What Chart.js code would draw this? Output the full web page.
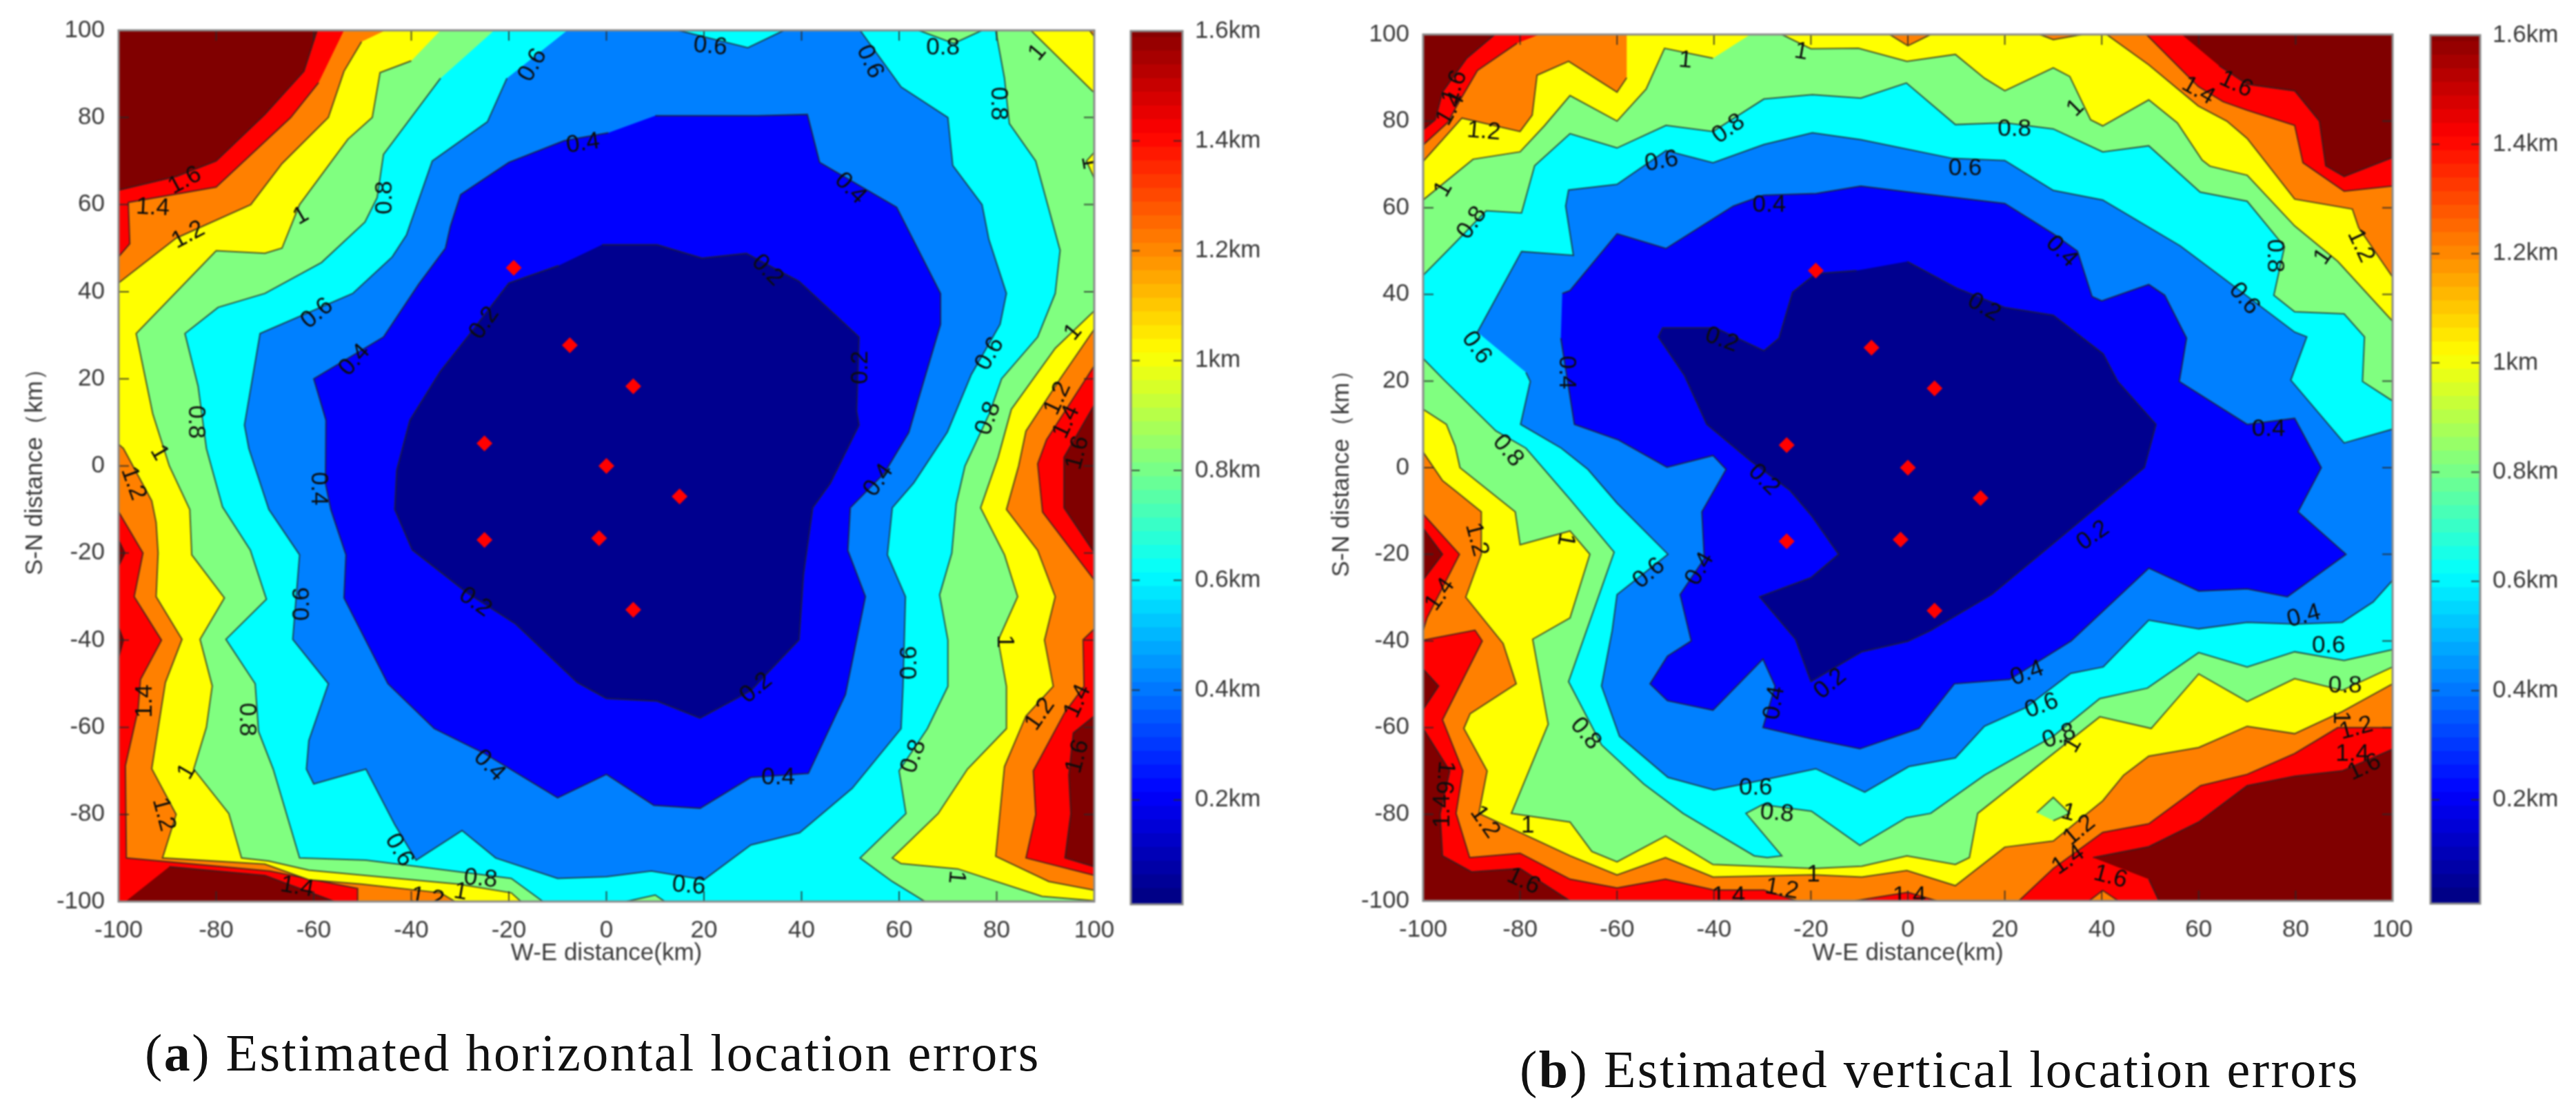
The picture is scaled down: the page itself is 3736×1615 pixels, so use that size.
<!DOCTYPE html>
<html>
<head>
<meta charset="utf-8">
<style>
html, body { margin: 0; background: #fff; }
canvas { position: absolute; filter: blur(1.1px); }
.caption { position: absolute; font-family: "Liberation Serif", serif; font-size: 76px; letter-spacing: 2.5px; color: #111; white-space: nowrap; }
</style>
<script src="https://cdn.jsdelivr.net/npm/chart.js@4/dist/chart.umd.js"></script>
</head>
<body>
<canvas id="plot-h" style="left:0;top:0"></canvas>
<canvas id="bar-h" style="left:1620px;top:0"></canvas>
<canvas id="plot-v" style="left:1880px;top:0"></canvas>
<canvas id="bar-v" style="left:3505px;top:0"></canvas>
<div class="caption" style="left:210px;top:1483px">(<b>a</b>) Estimated horizontal location errors</div>
<div class="caption" style="left:2204px;top:1507px">(<b>b</b>) Estimated vertical location errors</div>
<script>
const axisTicks = [-100, -80, -60, -40, -20, 0, 20, 40, 60, 80, 100];
const barTicks = [0.2, 0.4, 0.6, 0.8, 1, 1.2, 1.4, 1.6];
const barEdges = [0.01, 0.035, 0.06, 0.085, 0.11, 0.135, 0.16, 0.185, 0.21, 0.235, 0.26, 0.285, 0.31, 0.335, 0.36, 0.385, 0.41, 0.435, 0.46, 0.485, 0.51, 0.535, 0.56, 0.585, 0.61, 0.635, 0.66, 0.685, 0.71, 0.735, 0.76, 0.785, 0.81, 0.835, 0.86, 0.885, 0.91, 0.935, 0.96, 0.985, 1.01, 1.035, 1.06, 1.085, 1.11, 1.135, 1.16, 1.185, 1.21, 1.235, 1.26, 1.285, 1.31, 1.335, 1.36, 1.385, 1.41, 1.435, 1.46, 1.485, 1.51, 1.535, 1.56, 1.585, 1.6];
const stationX = [-19, -7.5, 5.5, -25, 0, 15, -1.5, -25, 5.5];
const stationY = [45.5, 27.7, 18.3, 5.2, 0, -7, -16.6, -17, -33];
const plotCorners = [[-100, 100], [100, 100], [100, -100], [-100, -100]];

// panel a, horizontal errors: regions below each contour level
const hMaroonCorner = [[-100, 100], [-59.3, 100], [-62, 90.6], [-70, 80.7], [-80, 70], [-88, 66.5], [-100, 63.3]];
const hMaroonRight1 = [[100, 14], [93.8, 2], [93.8, -9.6], [100, -19.9]];
const hMaroonRight2 = [[100, -57.4], [95.7, -61.3], [94.8, -71], [95.2, -79.8], [94, -90], [100, -92]];
const hMaroonBottom = [[-89.6, -92], [-70, -94], [-55.7, -100], [-98.6, -100]];
const hMaroonEdge1 = [[-100, -17], [-98.7, -20], [-100, -23]];
const hMaroonEdge2 = [[-100, -37], [-99, -40], [-100, -44]];
const hLe14 = [[-53.8, 100], [100, 100], [100, 23], [90.2, 6], [88.4, 0.5], [89.4, -10.6], [100, -26.2], [100, -37.4], [97.7, -39.9], [97.9, -50.6], [94, -56.5], [87.5, -70], [88, -80], [86, -90], [100, -94], [100, -100], [-51, -100], [-51, -97], [-69, -93], [-98.4, -90], [-98.6, -68.8], [-96, -56], [-95.5, -49], [-91.2, -40], [-96.8, -30], [-95, -20], [-100, -10.5], [-100, 48], [-97.7, 51], [-98, 60.5], [-80, 64], [-64.7, 80], [-59, 88]];
const hLe12 = [[-45.3, 100], [99, 100], [100, 98.6], [100, 31.4], [93, 20], [86, 8], [84.5, 0], [82, -10], [88.4, -19.4], [92, -30], [89.8, -40], [91.6, -50.6], [86, -57.4], [81.6, -69], [79.8, -89.6], [90.7, -95.4], [100, -97.4], [100, -100], [-31, -100], [-34, -98], [-50.2, -96], [-61, -95], [-70, -91.4], [-91, -90], [-88.2, -80], [-93.2, -69.5], [-91.3, -56], [-90.4, -49.7], [-87, -39.8], [-92.3, -30], [-91.9, -20], [-92.3, -13], [-93.2, -8], [-99, 4], [-100, 5], [-100, 42], [-88.2, 52.3], [-72.9, 60], [-66.5, 69.4], [-57, 80], [-53.8, 90.6], [-50.2, 97.4]];
const hLe10 = [[-34, 100], [87, 100], [99.7, 86], [100, 86], [100, 72], [98.4, 70], [100, 66], [100, 35.6], [92, 27], [83, 13], [80.3, 2], [76.7, -9.6], [81.6, -20.4], [84.3, -30], [80.3, -40], [82, -50.6], [82, -60.3], [74, -69.6], [68, -79.8], [58.6, -90], [60.4, -91.3], [72, -92.5], [89.3, -98.8], [100, -99.8], [100, -100], [-17.5, -100], [-19.5, -98], [-30.3, -96], [-61, -92.8], [-69.2, -90.7], [-74.8, -90], [-77.4, -79.8], [-84.6, -69.6], [-82, -60], [-80.8, -50.5], [-83.3, -39.8], [-78.3, -30.3], [-85, -20.4], [-85.4, -10], [-89.6, 0], [-93, 12], [-96.4, 30.4], [-80, 49.4], [-70, 48.8], [-66.5, 50], [-62.9, 60], [-53, 75], [-48, 80], [-46.4, 90.3], [-40, 93]];
const hLe08 = [[-23, 100], [79.8, 100], [81.6, 89], [82.6, 78.6], [88, 70], [93, 49.5], [92, 39.6], [88.4, 29.6], [81, 20], [78.5, 12], [73.5, 0], [71.7, -8.7], [70.8, -20], [68.3, -29.6], [70, -40], [70, -50.6], [65.8, -60.3], [60, -70], [61.4, -79.8], [52, -90], [58.6, -95.4], [65.3, -100], [-13, -100], [-19.5, -94.7], [-38.4, -92], [-49.3, -90.5], [-62.9, -90], [-68.3, -69.6], [-71.3, -61], [-72, -50], [-78, -39.8], [-69.7, -30.6], [-73, -19.3], [-78.7, -9.4], [-82, 4], [-83.7, 18.3], [-86.4, 30.4], [-79.6, 36.4], [-70, 39.6], [-58.4, 46.7], [-49.5, 56], [-47, 61.6], [-45.7, 71.5], [-34, 89]];
const hGreenTop = [[64, 100], [71.2, 97], [77, 100]];
const hGreenBottom = [[4, -100], [10, -98.5], [12, -100]];
const hLe06 = [[-8, 100], [52, 100], [60.4, 87], [70, 80], [71, 69], [77, 60], [78.4, 52], [82, 39.6], [80.7, 32.5], [74.8, 21], [69.9, 7.8], [63, -3.9], [58.6, -9.6], [57.6, -20.4], [61.3, -30], [60.8, -50.6], [60.4, -60.3], [50.4, -74], [39.6, -84.2], [29.6, -87], [20, -95], [9.2, -93], [0, -94.3], [-10, -94.7], [-22.7, -90], [-29.6, -83.7], [-39, -90.5], [-43.4, -82.3], [-49.3, -69.6], [-60, -73], [-61.5, -69.6], [-61, -63], [-57, -50], [-64.3, -39.8], [-62.9, -20.4], [-69.2, -10], [-73.3, 4], [-74.2, 9.4], [-71, 30.4], [-52, 39.6], [-43.9, 48], [-41, 53], [-35.7, 70], [-24.4, 79], [-20.4, 89]];
const hCyanTop = [[14.7, 100], [29, 96], [36.4, 100]];
const hLe04 = [[10, 80.4], [31, 80.4], [41.2, 80.7], [43.7, 69.7], [59.5, 59.4], [68.5, 39.6], [68.5, 32.5], [64, 15.5], [62, 7.7], [57, -1.6], [50, -9.6], [49.5, -19.4], [53.1, -30], [49, -52.5], [41.4, -70.6], [29.6, -71.5], [19.2, -78.6], [9.7, -77.9], [0, -70.8], [-10, -76.2], [-25, -66], [-35.3, -60.3], [-44.8, -50], [-53.8, -30.3], [-53.4, -20.4], [-56.5, -10], [-57.6, -4], [-57.5, 10.5], [-60, 20], [-45.7, 29.6], [-38.5, 41.7], [-33, 50], [-32, 55], [-29.9, 62.3], [-20, 69.7], [-8.6, 74.7], [0.4, 76.5]];
const hLe02 = [[-0.9, 50.8], [10.4, 50.8], [19.6, 47.7], [28.7, 48.8], [39.5, 42.4], [51.8, 29.6], [51.3, 12.6], [51.8, 9.4], [45.9, -4], [42.3, -9.6], [40.4, -25], [39.5, -39.9], [29.6, -51.6], [19.2, -57.9], [10.4, -54], [0, -53.4], [-6, -49.7], [-18.6, -36.3], [-28.5, -29.2], [-39.8, -19.3], [-43.4, -10], [-43, -1], [-40.3, 10.5], [-34, 21.8], [-28.5, 29.6], [-20, 42], [-9.8, 46]];

// text, x, y, rotation
const hLabels = [['0.6', -15.1, 92, -60], ['0.4', -4.8, 74, -8], ['1.6', -86.4, 65.5, -28], ['1.4', -93, 59.3, 3], ['1.2', -85.7, 53, -28], ['1', -62.6, 57.4, -30], ['0.8', -45.4, 61.6, -90], ['0.2', -25, 32.8, -55], ['0.6', -59.3, 35, -40], ['0.4', -51.6, 24.3, -48], ['0.8', -84.2, 10.1, 90], ['1', -91.7, 3, 60], ['1.2', -97, -4, 70], ['0.4', -59, -5.2, 90], ['0.6', -62.4, -31.7, -90], ['0.2', -26.9, -31.3, 35], ['1.4', -94.6, -54, -90], ['0.8', -73.8, -58.2, 90], ['1', -86, -70.2, -60], ['1.2', -90.8, -80, 75], ['0.4', -24, -68.8, 45], ['0.6', -42.5, -88.2, 60], ['1.4', -63.4, -96.7, 10], ['0.8', -25.8, -94.8, 5], ['1', -29.9, -97.8, 10], ['1.2', -36.7, -99.2, 10], ['0.6', 16.9, -96.4, 5], ['0.4', 55.8, -3.3, -55], ['0.2', 30.7, -51, -40], ['0.4', 35.2, -71.5, 0], ['0.6', 62.2, -45.2, -90], ['0.8', 63, -66.7, -70], ['1', 81.6, -40.3, 90], ['1.2', 88.9, -57, -55], ['1.4', 96.6, -54, -65], ['1.6', 96.6, -66.7, -75], ['1', 71.7, -94.4, 95], ['0.6', 21.3, 96.3, 5], ['0.6', 54, 92.8, 65], ['0.8', 69, 96, 0], ['1', 88.4, 94.9, -50], ['0.8', 80.3, 83.2, 90], ['0.4', 50, 63.7, 45], ['0.2', 33, 44.9, 45], ['0.2', 52.2, 22.6, -90], ['0.6', 78.6, 25.7, -60], ['0.8', 78.3, 10.9, -70], ['1', 95.7, 30.7, -50], ['1.2', 92.5, 15.5, -65], ['1.4', 94.3, 10.1, -65], ['1.6', 96.6, 3, -75], ['1', 99, 69.7, 80]];

// panel b, vertical errors
const vMaroonCorner = [[-100, 100], [-85.2, 100], [-91, 94.5], [-96, 86.7], [-97.5, 80.3], [-100, 78]];
const vMaroonTop = [[56.5, 100], [100, 100], [100, 71.6], [90, 67.2], [86.2, 69.7], [84.9, 80], [79.8, 87], [70, 88.5], [64.2, 92.8]];
const vMaroonLeft = [[-100, -60.2], [-94.5, -70], [-96.5, -80], [-96, -89.6], [-90, -93.3], [-80, -92.5], [-69.7, -100], [-100, -100]];
const vMaroonBottom = [[38.2, -90], [49.7, -87.5], [60, -81.8], [70, -73.4], [79.8, -71.2], [89.6, -70], [100, -65], [100, -100], [51.8, -100], [49.7, -95]];
const vMaroonEdge1 = [[-100, -14], [-96, -20], [-100, -25.9]];
const vMaroonEdge2 = [[-100, -46.5], [-96.8, -50.4], [-100, -55.8]];
const vOrangeBottom = [[37.4, -100], [40.2, -97.6], [43.4, -100]];
const vLe14 = [[-76, 100], [49.2, 100], [59.9, 88], [65, 84.5], [70, 82.5], [79.8, 79], [81.5, 70.4], [90, 63.8], [100, 65], [100, -60], [88.7, -60], [79.8, -66], [70, -70.8], [60.4, -73.4], [49.7, -82.2], [40.2, -84.2], [30, -92.5], [22.9, -100], [6, -100], [0, -98], [-11, -100], [-22.9, -100], [-29.7, -97.5], [-40, -97.5], [-50, -95], [-60, -97], [-69.7, -95], [-80, -89], [-90.4, -90], [-93.2, -79.8], [-91.8, -70], [-96, -58.2], [-87.8, -40], [-89.3, -37.5], [-100, -39.8], [-100, -37.6], [-99.2, -34.7], [-92.5, -20], [-100, -10.7], [-100, 74.5], [-95, 79.6], [-92.5, 84.6], [-88.8, 91.7], [-80.6, 98]];
const vLe12 = [[-58, 100], [41, 100], [49.7, 93], [59.9, 83.5], [65.8, 80], [70, 76], [79.8, 62], [91.7, 59.7], [93, 55.4], [100, 44], [100, -49.9], [89.6, -56.3], [79.8, -61.4], [70, -59.7], [60, -64.6], [49.7, -66.6], [44.5, -71], [40.2, -76.9], [30, -86.2], [20, -87.6], [9.8, -96.5], [-0.2, -93], [-9.5, -94.5], [-19.5, -94], [-40.2, -94.5], [-50, -90], [-60, -94], [-69.7, -89.6], [-88.5, -79.8], [-86.8, -70], [-91.6, -60.2], [-90.3, -56.8], [-80.8, -49.9], [-83.5, -40.6], [-91.2, -29.9], [-88, -20], [-88, -10.2], [-93.4, -5.3], [-96, -3], [-100, 3.6], [-100, 70.7], [-92, 80.7], [-80, 77.6], [-77.5, 81.4], [-76.5, 90.6], [-70, 93.8], [-60, 86.7], [-58, 90]];
const vOrangeTop1 = [[-3.8, 100], [0, 97.4], [4.7, 100]];
const vOrangeTop2 = [[27.2, 100], [30, 98.8], [36, 100]];
const vGreenSpot = [[26.6, -79.6], [30, -76.1], [33.4, -79.8], [30, -81.5]];
const vLe10 = [[-32.5, 100], [-26, 100], [-20, 96.7], [-10.2, 96.8], [-0.2, 93.8], [9.8, 95.4], [15.8, 89.9], [20, 87], [30, 92.3], [33.4, 90.3], [37.7, 80.3], [40.2, 78.9], [49.7, 84.9], [55.6, 79.6], [60.7, 71], [62.3, 69.6], [70, 67.5], [79.8, 55.8], [88.7, 47.6], [100, 33.8], [100, -46], [89.6, -51.4], [79.8, -48.7], [70, -54], [60, -47.6], [50.2, -60.2], [39.6, -57.5], [14.4, -79.8], [12.7, -90], [9.8, -91.6], [-0.2, -89.6], [-9.5, -92], [-19.5, -92.5], [-40.2, -91.6], [-50, -85], [-60, -91], [-65.2, -88.6], [-69.7, -81.8], [-81.8, -79.8], [-74.2, -59.2], [-77.4, -39.6], [-69.7, -34.7], [-65.6, -20], [-69.7, -14.6], [-80, -17.8], [-81, -10.2], [-92.4, 0], [-93.4, 5], [-95.2, 10], [-100, 13.5], [-100, 61.8], [-89.7, 71.2], [-80, 72.9], [-75, 78.9], [-69.7, 85.9], [-60, 80], [-54, 87.4], [-50.2, 96.8], [-40.2, 94.5]];
const vLe08 = [[-100, 44.4], [-93.4, 51.9], [-87, 59.3], [-79.7, 58.8], [-77, 69.7], [-69.7, 77.1], [-60, 73.8], [-49.9, 79], [-40.2, 77.6], [-29.7, 85.1], [-19.7, 86.1], [-9.7, 85.3], [-0.3, 88.8], [9.8, 79.2], [20, 79.6], [30, 78.2], [40.2, 72.9], [49.7, 74.3], [60.3, 63.6], [70, 61.5], [77.7, 51], [75.5, 39.8], [79.8, 36], [90, 35.5], [94.2, 30.2], [93.8, 19.9], [100, 15.4], [100, -42], [90, -44.5], [79.8, -42.5], [70, -46], [60, -42.7], [49.4, -50.9], [39.6, -53.3], [30, -62], [15.8, -71], [4.7, -79.8], [-0.3, -80.8], [-9.9, -87.2], [-19.9, -79.3], [-30, -77.8], [-33.4, -79.8], [-26, -89.6], [-29, -90], [-31.7, -89.6], [-46.4, -79.8], [-54.5, -73], [-63.2, -64], [-70, -49.4], [-60.6, -19.5], [-69.7, -7.3], [-78.8, 4.5], [-85, 8.5], [-96, 20.6], [-100, 25.2]];
const vLe06 = [[-88.8, 31.3], [-79.7, 49.9], [-69, 49], [-70.6, 60.4], [-70, 64.1], [-60, 65.4], [-49.9, 73.2], [-40.2, 70.4], [-29.7, 74.6], [-19.7, 77.3], [-9.7, 75.7], [9.2, 71.4], [20, 70.9], [30, 64], [40.2, 61.8], [56.2, 51.2], [65.5, 43.4], [79.8, 31.3], [82.3, 30.2], [79, 20.2], [90, 5.7], [100, 8.9], [100, -26], [96, -31], [89.6, -35.7], [80, -36.1], [70, -35.7], [60, -37.2], [49.7, -35.2], [40.3, -46], [33.6, -47.5], [24.3, -55.4], [15.8, -59.7], [9.8, -67], [0.2, -69], [-8.9, -74.9], [-19, -69.5], [-29.5, -72], [-40, -74.4], [-49.5, -71.5], [-59.5, -62], [-63.2, -50.4], [-61, -37.6], [-60, -29.3], [-49.5, -20], [-60, -8.2], [-66, -0.4], [-71.5, 4.5], [-79.9, 10], [-77.9, 19.9], [-78.8, 22]];
const vLe04 = [[-71.3, 40.2], [-69.7, 40.9], [-60, 54], [-49.9, 50.6], [-36, 60.4], [-29.8, 62.9], [-18.9, 63.3], [-9.7, 65], [0.3, 63.6], [20, 61], [30, 54], [35, 50], [38, 39.5], [40, 38.5], [49.7, 42.3], [53, 39.8], [57.5, 29.9], [56, 19.9], [70, 10], [79.8, 11.4], [85.3, 0], [80.5, -10.2], [90.4, -20], [78.3, -29.8], [70, -28], [60, -28.5], [49.7, -23.2], [33.7, -40], [21, -48.9], [9.6, -49.9], [2.3, -60.2], [-9.9, -64.9], [-19.9, -62.6], [-29.9, -60], [-27.4, -50.4], [-29.9, -44.2], [-40.2, -56], [-49.6, -53.8], [-53.2, -49.9], [-49.6, -43.5], [-44.7, -40], [-47, -29.3], [-42, -21], [-42.5, -10.2], [-37.5, -0.4], [-40.2, 2.8], [-49.7, 0.1], [-59.7, 6.4], [-68.8, 10], [-71.6, 29.9]];
const vLe02 = [[-0.1, 47.6], [10, 41.5], [20, 37], [30, 35.2], [40.3, 26.3], [43.3, 19.9], [51.2, 10], [48.8, 0], [30, -17.5], [17.3, -29.3], [4.7, -37.6], [0, -40.1], [-9.5, -42.5], [-20, -49.4], [-23.2, -39.6], [-30.6, -29.8], [-20, -25.4], [-14.3, -20], [-19.8, -11.2], [-24.3, -5.3], [-32.5, 1.6], [-41.5, 10], [-46.1, 21.3], [-51.5, 30.2], [-50.6, 32.3], [-39.7, 32.3], [-29.7, 27], [-26.6, 29.9], [-23.8, 40.5], [-19, 44.8], [-10.6, 45.5]];

const vLabels = [['1.6', -93.5, 87.8, -70], ['1.4', -94.3, 82.8, -60], ['1.2', -87.5, 77.6, 5], ['1', -95.8, 64.3, -60], ['1', -45.9, 94, 5], ['1', -22, 96, 10], ['0.8', -37, 78.2, -35], ['0.6', -50.8, 70.7, -10], ['0.6', 11.8, 69, 0], ['0.4', -28.6, 60.6, 0], ['0.8', -89.9, 56.5, -55], ['0.6', -89, 27.7, 55], ['0.4', -70.4, 22, 90], ['0.2', -38.4, 29.5, 20], ['0.2', 15.7, 37, 30], ['0.8', -82.5, 3.9, 50], ['0.2', -29.7, -2.8, 45], ['1.2', -89, -16.6, 75], ['1', -70.6, -16.6, 100], ['0.6', -53.4, -24.4, -40], ['0.4', -42.9, -23.4, -60], ['1.4', -96.5, -29.3, -55], ['0.4', -27.5, -54.3, -80], ['0.2', -16, -49.9, -40], ['0.8', -66.5, -61.4, 50], ['1.6', -95.6, -71.5, 95], ['1.4', -96, -79.3, -90], ['1.2', -87.3, -81.8, 55], ['1', -78.4, -82.7, 0], ['0.6', -31.4, -73.9, 0], ['0.8', -27, -79.8, 5], ['1.6', -79.3, -95.5, 25], ['1.4', -37, -99, 0], ['1.2', -26, -97.3, 10], ['1', -19.5, -94, 0], ['1.4', 0.3, -99, 0], ['1', 34.6, 83, -45], ['0.8', 22, 78.2, 0], ['1.4', 59.9, 87, 30], ['1.6', 67.7, 88.5, 25], ['0.4', 31.7, 49.9, 45], ['0.8', 75.6, 48.9, 90], ['1', 85.7, 48.7, -55], ['1.2', 93.4, 51.2, 65], ['0.6', 69.4, 39, 50], ['0.4', 74.4, 8.9, 0], ['0.2', 38.2, -15.7, -35], ['0.4', 81.7, -34.3, -15], ['0.6', 86.8, -41.2, 0], ['0.8', 90.2, -50.3, 0], ['1', 89.3, -57.7, 90], ['1.2', 92.5, -60.2, -15], ['1.4', 91.7, -66.2, 0], ['1.6', 94.2, -69.2, -25], ['0.4', 24.6, -47.5, -20], ['0.6', 27.6, -55, -20], ['0.8', 31.2, -62, -20], ['1', 34, -64, -60], ['1', 33.1, -79.7, 15], ['1.2', 35.4, -83.7, -40], ['1.4', 33.1, -90.6, -35], ['1.6', 41.8, -94.5, 15]];

const colors = {
	le02: '#00008f',
	le04: '#0000ff',
	le06: '#0080ff',
	le08: '#00ffff',
	le10: '#80ff80',
	le12: '#ffff00',
	le14: '#ff8000',
	le16: '#ff0000',
	top: '#800000'
};
const fontFamily = '"Liberation Sans", Arial, sans-serif';
const textColor = '#3a3a3a';

// painted in this order, later ones cover earlier ones
const hLayers = [
	[plotCorners, colors.le16], [hMaroonCorner, colors.top], [hMaroonRight1, colors.top], [hMaroonRight2, colors.top], [hMaroonBottom, colors.top], [hMaroonEdge1, colors.top], [hMaroonEdge2, colors.top],
	[hLe14, colors.le14], [hLe12, colors.le12], [hLe10, colors.le10], [hLe08, colors.le08], [hGreenTop, colors.le10], [hGreenBottom, colors.le10],
	[hLe06, colors.le06], [hCyanTop, colors.le08], [hLe04, colors.le04], [hLe02, colors.le02]
];
const vLayers = [
	[plotCorners, colors.le16], [vMaroonCorner, colors.top], [vMaroonTop, colors.top], [vMaroonLeft, colors.top], [vMaroonBottom, colors.top], [vMaroonEdge1, colors.top], [vMaroonEdge2, colors.top], [vOrangeBottom, colors.le14],
	[vLe14, colors.le14], [vLe12, colors.le12], [vOrangeTop1, colors.le14], [vOrangeTop2, colors.le14], [vGreenSpot, colors.le10], [vLe10, colors.le10], [vLe08, colors.le08], [vLe06, colors.le06], [vLe04, colors.le04], [vLe02, colors.le02]
];

const jet = t => {
	const part = v => Math.round(255 * Math.max(0, Math.min(1, 1.5 - Math.abs(4 * t - v))));
	return 'rgb(' + part(3) + ',' + part(2) + ',' + part(1) + ')';
};

const overlay = labels => ({
	id: 'overlay',
	afterDatasetsDraw: chart => {
		const { ctx, chartArea: area, scales: { x, y } } = chart;
		ctx.save();
		ctx.beginPath();
		ctx.rect(area.left, area.top, area.right - area.left, area.bottom - area.top);
		ctx.clip();
		ctx.fillStyle = '#0c0c0c';
		ctx.font = '35px ' + fontFamily;
		ctx.textAlign = 'center';
		ctx.textBaseline = 'middle';
		labels.forEach(([text, lx, ly, angle]) => {
			ctx.save();
			ctx.translate(x.getPixelForValue(lx), y.getPixelForValue(ly));
			ctx.rotate(angle * Math.PI / 180);
			ctx.fillText(text, 0, 0);
			ctx.restore();
		});
		ctx.restore();
		ctx.save();
		ctx.strokeStyle = 'rgba(40,40,40,.8)';
		ctx.lineWidth = 2;
		ctx.beginPath();
		axisTicks.forEach(v => {
			const px = x.getPixelForValue(v);
			const py = y.getPixelForValue(v);
			ctx.moveTo(px, area.bottom);
			ctx.lineTo(px, area.bottom - 15);
			ctx.moveTo(px, area.top);
			ctx.lineTo(px, area.top + 15);
			ctx.moveTo(area.left, py);
			ctx.lineTo(area.left + 15, py);
			ctx.moveTo(area.right, py);
			ctx.lineTo(area.right - 15, py);
		});
		ctx.stroke();
		ctx.strokeStyle = '#8a8a8a';
		ctx.lineWidth = 3;
		ctx.strokeRect(area.left, area.top, area.right - area.left, area.bottom - area.top);
		ctx.restore();
	}
});

const barOverlay = {
	id: 'barOverlay',
	afterDatasetsDraw: chart => {
		const { ctx, chartArea: area, scales: { y } } = chart;
		ctx.save();
		ctx.strokeStyle = 'rgba(40,40,40,.8)';
		ctx.lineWidth = 2;
		ctx.beginPath();
		barTicks.forEach(v => {
			const py = y.getPixelForValue(v);
			ctx.moveTo(area.left, py);
			ctx.lineTo(area.left + 13, py);
			ctx.moveTo(area.right, py);
			ctx.lineTo(area.right - 13, py);
		});
		ctx.stroke();
		ctx.strokeStyle = '#8a8a8a';
		ctx.lineWidth = 3;
		ctx.strokeRect(area.left, area.top, area.right - area.left, area.bottom - area.top);
		ctx.restore();
	}
};

const makePlot = (id, size, box, layers, labels) => {
	const canvas = document.getElementById(id);
	canvas.width = size.width;
	canvas.height = size.height;
	const datasets = layers.map(([points, color], index) => ({
		data: points.map(([x, y]) => ({ x, y })),
		showLine: true,
		fill: 'shape',
		backgroundColor: color,
		borderColor: 'rgba(35,35,35,.75)',
		borderWidth: index === 0 ? 0 : 2,
		pointRadius: 0,
		tension: 0,
		order: layers.length - index
	}));
	datasets.push({
		data: stationX.map((x, i) => ({ x, y: stationY[i] })),
		showLine: false,
		pointStyle: 'rectRot',
		pointRadius: 11.5,
		pointBackgroundColor: '#ff0000',
		pointBorderWidth: 0,
		order: 0
	});
	return new Chart(canvas, {
		type: 'scatter',
		data: { datasets },
		plugins: [overlay(labels)],
		options: {
			responsive: false,
			animation: false,
			events: [],
			layout: { padding: { top: box.top, right: size.width - box.right, left: 0, bottom: 0 } },
			plugins: { legend: { display: false }, tooltip: { enabled: false } },
			scales: {
				x: {
					type: 'linear',
					min: -100,
					max: 100,
					afterBuildTicks: scale => { scale.ticks = axisTicks.map(value => ({ value })); },
					afterFit: scale => {
						scale.height = size.height - box.bottom;
						scale.paddingLeft = 0;
						scale.paddingRight = 0;
					},
					grid: { display: false },
					border: { display: false },
					ticks: { autoSkip: false, maxRotation: 0, padding: 13, color: textColor, font: { size: 35, family: fontFamily } },
					title: { display: true, text: 'W-E distance(km)', color: textColor, font: { size: 35, family: fontFamily }, padding: { top: 6, bottom: 17 } }
				},
				y: {
					type: 'linear',
					min: -100,
					max: 100,
					afterBuildTicks: scale => { scale.ticks = axisTicks.map(value => ({ value })); },
					afterFit: scale => { scale.width = box.left; },
					grid: { display: false },
					border: { display: false },
					ticks: { autoSkip: false, padding: 12, color: textColor, font: { size: 35, family: fontFamily } },
					title: { display: true, text: 'S-N distance（km）', color: textColor, font: { size: 35, family: fontFamily }, padding: { top: box.titleX, bottom: 0 } }
				}
			}
		}
	});
};

const makeBar = (id, size, box) => {
	const canvas = document.getElementById(id);
	canvas.width = size.width;
	canvas.height = size.height;
	const datasets = barEdges.slice(1).map((edge, i) => ({
		data: [[barEdges[i], edge + 0.004]],
		backgroundColor: jet((i + 0.5) / (barEdges.length - 1)),
		barPercentage: 1,
		categoryPercentage: 1,
		grouped: false,
		borderWidth: 0,
		order: i
	}));
	return new Chart(canvas, {
		type: 'bar',
		data: { labels: [''], datasets },
		plugins: [barOverlay],
		options: {
			responsive: false,
			animation: false,
			events: [],
			layout: { padding: { top: box.top, left: box.left, bottom: size.height - box.bottom, right: 0 } },
			plugins: { legend: { display: false }, tooltip: { enabled: false } },
			scales: {
				x: { display: false },
				y: {
					position: 'right',
					min: 0.01,
					max: 1.6,
					afterBuildTicks: scale => { scale.ticks = barTicks.map(value => ({ value })); },
					afterFit: scale => { scale.width = size.width - box.right; },
					grid: { display: false },
					border: { display: false },
					ticks: { autoSkip: false, padding: 10, color: textColor, font: { size: 35, family: fontFamily }, callback: value => value + 'km' }
				}
			}
		}
	});
};

makePlot('plot-h', { width: 1620, height: 1420 }, { left: 172, right: 1587, top: 44, bottom: 1307, titleX: 30 }, hLayers, hLabels);
makeBar('bar-h', { width: 230, height: 1420 }, { left: 20, right: 95, top: 45, bottom: 1311 });
makePlot('plot-v', { width: 1620, height: 1420 }, { left: 184, right: 1590, top: 50, bottom: 1306, titleX: 45 }, vLayers, vLabels);
makeBar('bar-v', { width: 230, height: 1420 }, { left: 20, right: 92, top: 51, bottom: 1310 });
</script>
</body>
</html>
